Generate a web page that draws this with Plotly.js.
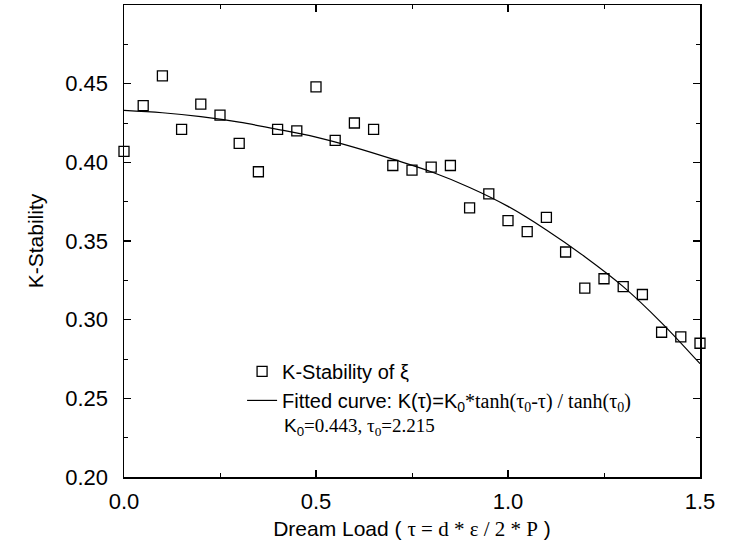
<!DOCTYPE html>
<html>
<head>
<meta charset="utf-8">
<script src="https://cdn.plot.ly/plotly-3.0.1.min.js"></script>
<style>
  html, body { margin: 0; padding: 0; background: #fff; }
  #chart { width: 735px; height: 543px; }
</style>
</head>
<body>
<div id="chart"></div>
<script>
// Measured data: K-Stability of xi vs Dream Load (tau)
const dreamLoad = [0.00, 0.05, 0.10, 0.15, 0.20, 0.25, 0.30, 0.35, 0.40, 0.45,
                   0.50, 0.55, 0.60, 0.65, 0.70, 0.75, 0.80, 0.85, 0.90, 0.95,
                   1.00, 1.05, 1.10, 1.15, 1.20, 1.25, 1.30, 1.35, 1.40, 1.45, 1.50];
const kStability = [0.407, 0.436, 0.455, 0.421, 0.437, 0.430, 0.412, 0.394, 0.421, 0.420,
                    0.448, 0.414, 0.425, 0.421, 0.398, 0.395, 0.397, 0.398, 0.371, 0.380,
                    0.363, 0.356, 0.365, 0.343, 0.320, 0.326, 0.321, 0.316, 0.292, 0.289, 0.285];

// Fitted curve
const fitLoad = [0.0, 0.1, 0.2, 0.3, 0.4, 0.5, 0.6, 0.7, 0.8, 0.9, 1.0, 1.1, 1.2, 1.3, 1.4, 1.5];
const fitK    = [0.433, 0.4315, 0.429, 0.4255, 0.421, 0.416, 0.4095, 0.402, 0.394, 0.384,
                 0.372, 0.357, 0.340, 0.321, 0.298, 0.272];

const xTickVals = [0.0, 0.5, 1.0, 1.5];
const yTickVals = [0.20, 0.25, 0.30, 0.35, 0.40, 0.45];

const sans = 'Liberation Sans, Arial, sans-serif';
const serif = 'Liberation Serif, Times New Roman, serif';

const traces = [
  {
    x: dreamLoad, y: kStability,
    type: 'scatter', mode: 'markers',
    name: 'K-Stability of ξ',
    cliponaxis: false,
    marker: { symbol: 'square-open', size: 10, color: '#000', line: { color: '#000', width: 1.3 } }
  },
  {
    x: fitLoad, y: fitK,
    type: 'scatter', mode: 'lines',
    name: 'Fitted curve: K(τ)=K<sub>0</sub><span style="font-family:' + serif + '">*tanh(τ<sub>0</sub>-τ) / tanh(τ<sub>0</sub>)</span>',
    line: { color: '#000', width: 1.2, shape: 'spline' }
  }
];

const layout = {
  width: 735, height: 543,
  margin: { l: 124, r: 35, t: 5, b: 66 },
  paper_bgcolor: '#fff', plot_bgcolor: '#fff',
  font: { family: sans, color: '#000', size: 20 },
  showlegend: true,
  legend: {
    x: 0.205, xanchor: 'left', y: 0.265, yanchor: 'top',
    bgcolor: 'rgba(0,0,0,0)', borderwidth: 0,
    font: { family: sans, size: 20, color: '#000' },
    tracegroupgap: 0
  },
  xaxis: {
    range: [0, 1.5],
    tickvals: xTickVals, tickformat: '.1f',
    ticks: 'inside', ticklen: 7, tickwidth: 1.2, tickcolor: '#000',
    minor: { dtick: 0.25, tick0: 0, ticks: 'inside', ticklen: 4, tickwidth: 1, tickcolor: '#000' },
    showline: true, linecolor: '#000', linewidth: 1.5, mirror: 'allticks',
    showgrid: false, zeroline: false,
    tickfont: { family: sans, size: 22, color: '#000' },
    ticklabelstandoff: 4,
    title: { text: 'Dream Load ( <span style="font-family:' + serif + '">τ = d * ε / 2 * P</span> )',
             font: { family: sans, size: 21, color: '#000' }, standoff: 8 }
  },
  yaxis: {
    range: [0.2, 0.5],
    tickvals: yTickVals, tickformat: '.2f',
    ticks: 'inside', ticklen: 7, tickwidth: 1.2, tickcolor: '#000',
    minor: { dtick: 0.025, tick0: 0.2, ticks: 'inside', ticklen: 4, tickwidth: 1, tickcolor: '#000' },
    showline: true, linecolor: '#000', linewidth: 1.5, mirror: 'allticks',
    showgrid: false, zeroline: false,
    tickfont: { family: sans, size: 22, color: '#000' },
    ticklabelstandoff: 10,
    title: { text: 'K-Stability', font: { family: sans, size: 21, color: '#000' }, standoff: 16 }
  },
  annotations: [
    {
      xref: 'paper', yref: 'paper', x: (282 - 124) / 576, y: (477 - 427) / 472,
      xanchor: 'left', yanchor: 'middle', showarrow: false,
      text: 'K<sub>0</sub><span style="font-family:' + serif + '">=0.443, τ<sub>0</sub>=2.215</span>',
      font: { family: sans, size: 19, color: '#000' }
    }
  ]
};

Plotly.newPlot('chart', traces, layout, { displayModeBar: false, staticPlot: true });
</script>
</body>
</html>
